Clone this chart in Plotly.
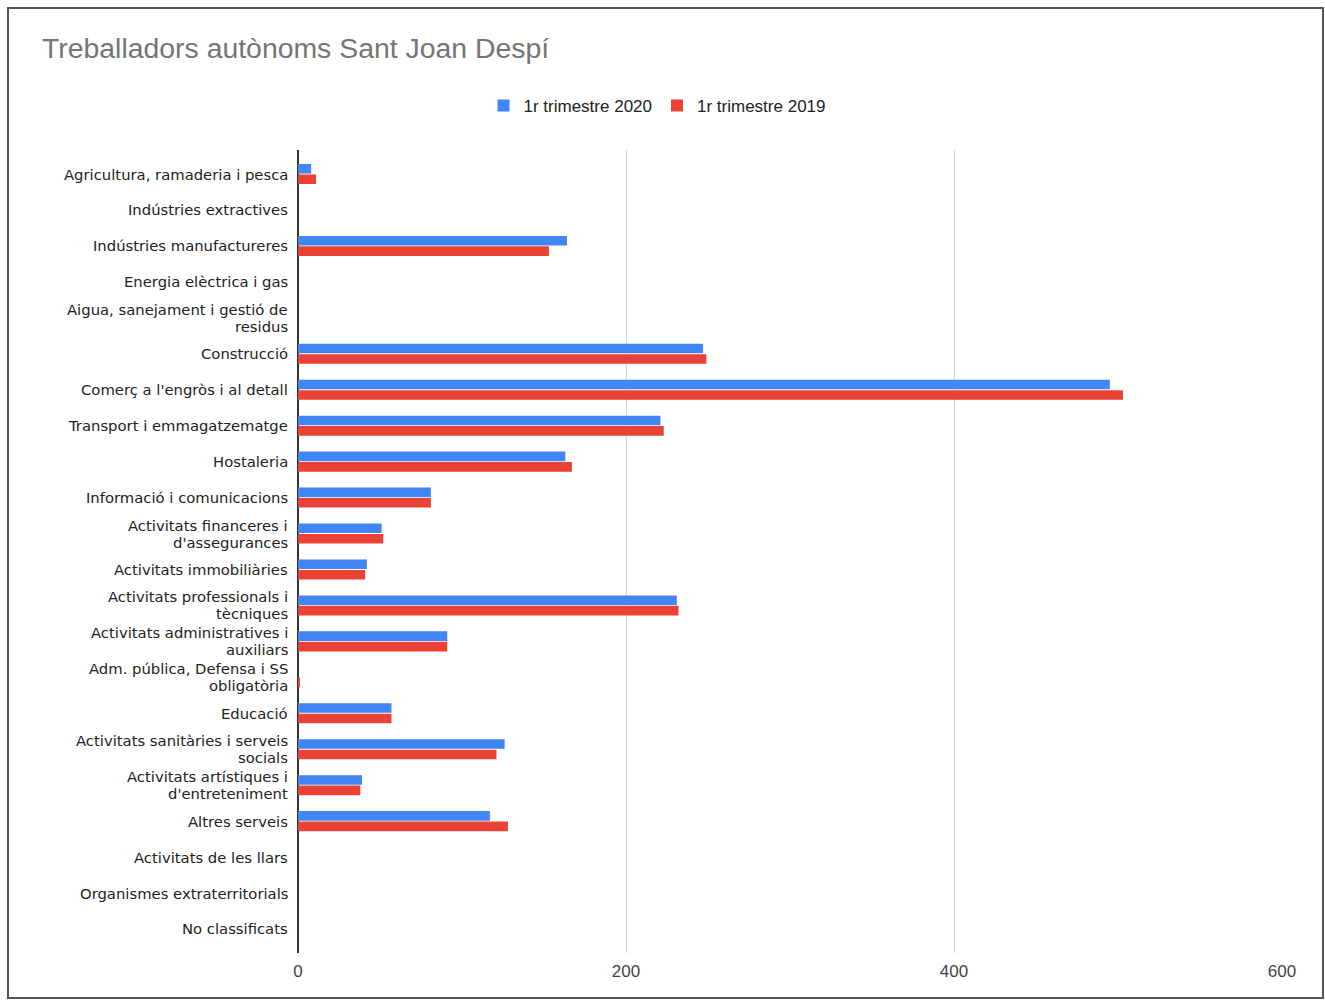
import plotly.graph_objects as go

categories = [
    "Agricultura, ramaderia i pesca",
    "Indústries extractives",
    "Indústries manufactureres",
    "Energia elèctrica i gas",
    "Aigua, sanejament i gestió de<br>residus",
    "Construcció",
    "Comerç a l'engròs i al detall",
    "Transport i emmagatzematge",
    "Hostaleria",
    "Informació i comunicacions",
    "Activitats financeres i<br>d'assegurances",
    "Activitats immobiliàries",
    "Activitats professionals i<br>tècniques",
    "Activitats administratives i<br>auxiliars",
    "Adm. pública, Defensa i SS<br>obligatòria",
    "Educació",
    "Activitats sanitàries i serveis<br>socials",
    "Activitats artístiques i<br>d'entreteniment",
    "Altres serveis",
    "Activitats de les llars",
    "Organismes extraterritorials",
    "No classificats",
]
trim_2020 = [8, 0, 164, 0, 0, 247, 495, 221, 163, 81, 51, 42, 231, 91, 0, 57, 126, 39, 117, 0, 0, 0]
trim_2019 = [11, 0, 153, 0, 0, 249, 503, 223, 167, 81, 52, 41, 232, 91, 1, 57, 121, 38, 128, 0, 0, 0]
series_names = ["1r trimestre 2020", "1r trimestre 2019"]
x_ticks = [0, 200, 400, 600]
title_text = "Treballadors autònoms Sant Joan Despí"

W, H = 1325, 1000
L, R, T, B = 298, 1282, 150, 953

n = len(categories)
idx = list(range(n))

fig = go.Figure()
fig.add_trace(go.Bar(y=idx, x=trim_2020, name=series_names[0], orientation="h",
                     marker=dict(color="#4285F4", line=dict(width=0))))
fig.add_trace(go.Bar(y=idx, x=trim_2019, name=series_names[1], orientation="h",
                     marker=dict(color="#EA4335", line=dict(width=0))))

def px_x(p):
    return (p - L) / (R - L)

def px_y(p):
    return (B - p) / (B - T)

annotations = []
for i, lab in enumerate(categories):
    lines = lab.split("<br>")
    shifts = [0] if len(lines) == 1 else [8.5, -8.5]
    for line, sh in zip(lines, shifts):
        annotations.append(dict(x=0, xref="paper", y=i, yref="y", text=line, showarrow=False,
                                xanchor="right", yanchor="middle", xshift=-8, yshift=sh,
                                font=dict(family="DejaVu Sans, Liberation Sans, sans-serif",
                                          size=14.8, color="#222222")))

fig.update_layout(
    width=W, height=H,
    margin=dict(l=L, r=W - R, t=T, b=H - B, autoexpand=False),
    paper_bgcolor="white", plot_bgcolor="white",
    barmode="group", bargap=0.42, bargroupgap=0.08,
    font=dict(family="Liberation Sans, Arial, sans-serif", size=17, color="#222222"),
    title=dict(text=title_text, x=42 / W, xanchor="left", y=1 - 48 / H, yanchor="middle",
               xref="container", yref="container",
               font=dict(family="Liberation Sans, Arial, sans-serif", size=28.4, color="#757575")),
    legend=dict(orientation="h", x=657 / W, xanchor="center", y=1 - 106 / H, yanchor="middle",
                xref="container", yref="container", font=dict(size=17, color="#222222"),
                traceorder="normal"),
    xaxis=dict(range=[0, 600], tickvals=x_ticks, showgrid=True, gridcolor="#d6d6d6", gridwidth=1,
               zeroline=True, zerolinecolor="#333333", zerolinewidth=1.5,
               tickfont=dict(size=17, color="#444444"), ticks="", showline=False, ticklabelstandoff=6),
    yaxis=dict(range=[n - 1 + 0.668, -0.668], showgrid=False, ticks="", showline=False,
               showticklabels=False, zeroline=False),
    annotations=annotations,
    shapes=[dict(type="rect", xref="paper", yref="paper",
                 x0=px_x(8), x1=px_x(1323), y0=px_y(998), y1=px_y(8),
                 line=dict(color="#555555", width=2), fillcolor="rgba(0,0,0,0)", layer="below")],
)

fig.write_html(
    "out.html",
    config={"displayModeBar": False},
    post_script="document.body.style.margin='0px';document.documentElement.style.overflow='hidden';document.body.style.overflow='hidden';",
)
